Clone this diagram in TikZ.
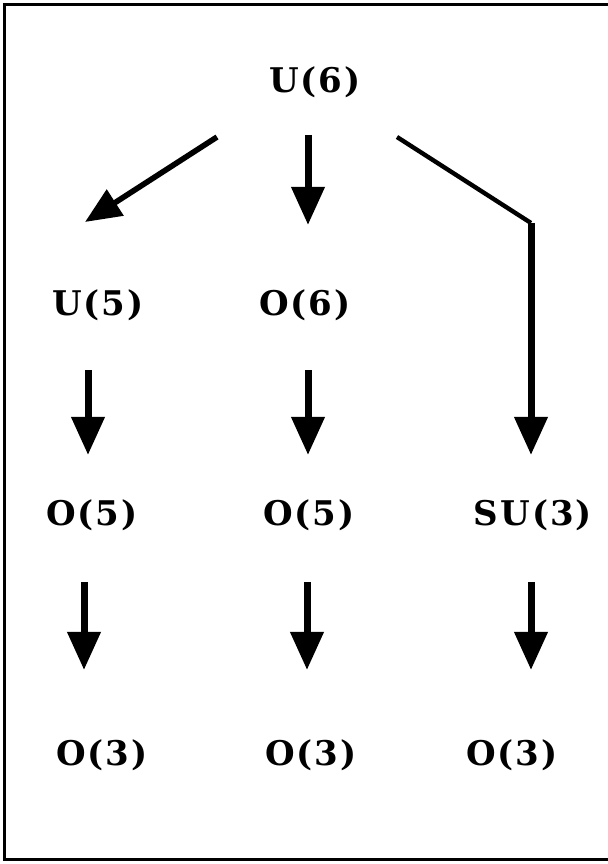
\documentclass[tikz,border=0pt]{standalone}
\usepackage{fontspec}
\newfontfamily\grpfont{DejaVu Serif}[LetterSpace=6]
\usetikzlibrary{arrows.meta,calc}
\begin{document}
\begin{tikzpicture}[x=0.5pt,y=0.5pt,
	grp/.style={font=\grpfont\fontsize{17}{20}\selectfont\bfseries, inner sep=0pt},
	arr/.style={line width=3.5pt,-{Triangle[length=19pt,width=16pt]}},
	darr/.style={line width=2.8pt,-{Triangle[length=18pt,width=15pt]}},
	lnk/.style={line width=2.2pt}]
			\useasboundingbox (0,0) rectangle (608,864);
			\draw [line width=1.5pt] (608,859.5) -- (4.5,859.5) -- (4.5,4.5) -- (608,4.5);
			\node [grp] (U6) at (315,782) {U(6)};
			\node [grp] (U5) at (98,559) {U(5)};
			\node [grp] (O6) at (305,559) {O(6)};
			\node [grp] (O5a) at (92,349) {O(5)};
			\node [grp] (O5b) at (309,349) {O(5)};
			\node [grp] (SU3) at (533,349) {SU(3)};
			\node [grp] (O3a) at (102,109) {O(3)};
			\node [grp] (O3b) at (311,109) {O(3)};
			\node [grp] (O3c) at (512,109) {O(3)};
			\coordinate (bend) at ($(SU3)+(-2,292)$);
			\draw [darr] ($(U6)+(-98,-55)$) -- ($(U5)+(-13,83)$);
			\draw [arr] ($(U6)+(-7,-53)$) -- ($(O6)+(3,80)$);
			\draw [lnk] ($(U6)+(82,-55)$) -- (bend);
			\draw [arr] (bend) -- ($(SU3)+(-2,60)$);
			\draw [arr] ($(U5)+(-10,-65)$) -- ($(O5a)+(-4,60)$);
			\draw [arr] ($(O6)+(3,-65)$) -- ($(O5b)+(-1,60)$);
			\draw [arr] ($(O5a)+(-8,-67)$) -- ($(O3a)+(-18,85)$);
			\draw [arr] ($(O5b)+(-2,-67)$) -- ($(O3b)+(-4,85)$);
			\draw [arr] ($(SU3)+(-2,-67)$) -- ($(O3c)+(19,85)$);
\end{tikzpicture}
\end{document}
